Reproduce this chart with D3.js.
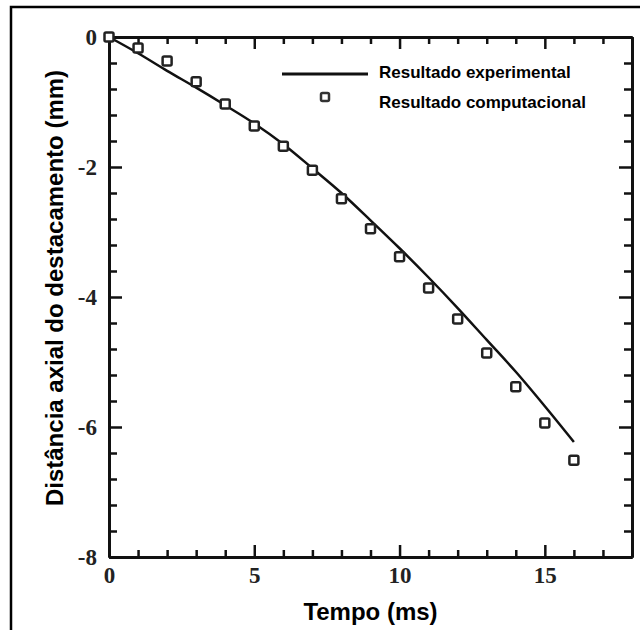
<!DOCTYPE html>
<html>
<head>
<meta charset="utf-8">
<script src="https://cdn.jsdelivr.net/npm/d3@7"></script>
<style>
  body { margin: 0; background: #fff; }
  .axis path, .axis line { stroke: #111; }
  .axis text { font-family: "Liberation Serif", "DejaVu Serif", serif; font-weight: bold; fill: #222; }
</style>
</head>
<body>
<script>
// data
var tempo = [0, 1, 2, 3, 4, 5, 6, 7, 8, 9, 10, 11, 12, 13, 14, 15, 16];
var experimental = [0, -0.25, -0.52, -0.78, -1.05, -1.33, -1.65, -2.02, -2.4, -2.82, -3.25, -3.7, -4.17, -4.66, -5.15, -5.68, -6.23];
var computacional = [0, -0.17, -0.37, -0.69, -1.03, -1.37, -1.68, -2.05, -2.49, -2.95, -3.38, -3.86, -4.34, -4.86, -5.38, -5.94, -6.51];
var xTicks = [0, 5, 10, 15];
var yTicks = [0, -2, -4, -6, -8];
var legendLabels = ["Resultado experimental", "Resultado computacional"];

const svgWidth = 640, svgHeight = 630;
const plot = {left: 109, right: 632, top: 37, bottom: 557};

const svg = d3.select('body')
	.append('svg')
	.attr('width', svgWidth)
	.attr('height', svgHeight);

// outer frame of the figure
svg.append('rect')
	.attr('x', 11).attr('y', 7)
	.attr('width', 660).attr('height', 660)
	.attr('fill', 'none')
	.attr('stroke', '#000')
	.attr('stroke-width', 2.5);

const xScale = d3.scaleLinear().domain([0, 18]).range([plot.left, plot.right]);
const yScale = d3.scaleLinear().domain([-8, 0]).range([plot.bottom, plot.top]);

const xMinor = d3.range(0, 19).filter(v => v % 5 !== 0);
const yMinor = d3.range(0, 21).filter(i => i % 5 !== 0).map(i => -8 + i * 0.4);

function styleAxis(g) {
	g.select('.domain').attr('stroke-width', 3);
	g.selectAll('.tick line').attr('stroke-width', 2.5);
}

// bottom
svg.append('g').attr('class', 'axis')
	.attr('transform', 'translate(0,' + plot.bottom + ')')
	.call(d3.axisBottom(xScale).tickValues(xMinor).tickSizeInner(-7).tickSizeOuter(0).tickFormat(''))
	.call(styleAxis);
svg.append('g').attr('class', 'axis')
	.attr('transform', 'translate(0,' + plot.bottom + ')')
	.call(d3.axisBottom(xScale).tickValues(xTicks).tickSizeInner(-12).tickSizeOuter(0).tickPadding(10))
	.call(styleAxis)
	.selectAll('text').attr('font-size', 23);

// top
svg.append('g').attr('class', 'axis')
	.attr('transform', 'translate(0,' + plot.top + ')')
	.call(d3.axisTop(xScale).tickValues(xMinor).tickSizeInner(-7).tickSizeOuter(0).tickFormat(''))
	.call(styleAxis);
svg.append('g').attr('class', 'axis')
	.attr('transform', 'translate(0,' + plot.top + ')')
	.call(d3.axisTop(xScale).tickValues(xTicks).tickSizeInner(-12).tickSizeOuter(0).tickFormat(''))
	.call(styleAxis);

// left
svg.append('g').attr('class', 'axis')
	.attr('transform', 'translate(' + plot.left + ',0)')
	.call(d3.axisLeft(yScale).tickValues(yMinor).tickSizeInner(-8).tickSizeOuter(0).tickFormat(''))
	.call(styleAxis);
svg.append('g').attr('class', 'axis')
	.attr('transform', 'translate(' + plot.left + ',0)')
	.call(d3.axisLeft(yScale).tickValues(yTicks).tickSizeInner(-13).tickSizeOuter(0).tickPadding(12).tickFormat(d => String(d)))
	.call(styleAxis)
	.selectAll('text').attr('font-size', 23);

// right
svg.append('g').attr('class', 'axis')
	.attr('transform', 'translate(' + plot.right + ',0)')
	.call(d3.axisRight(yScale).tickValues(yMinor).tickSizeInner(-8).tickSizeOuter(0).tickFormat(''))
	.call(styleAxis);
svg.append('g').attr('class', 'axis')
	.attr('transform', 'translate(' + plot.right + ',0)')
	.call(d3.axisRight(yScale).tickValues(yTicks).tickSizeInner(-13).tickSizeOuter(0).tickFormat(''))
	.call(styleAxis);

// experimental curve
const line = d3.line()
	.x((d, i) => xScale(tempo[i]))
	.y(d => yScale(d))
	.curve(d3.curveMonotoneX);

svg.append('path')
	.datum(experimental)
	.attr('d', line)
	.attr('fill', 'none')
	.attr('stroke', '#111')
	.attr('stroke-width', 2.5);

// computational squares
const sq = 9;
svg.append('g').selectAll('rect')
	.data(computacional)
	.enter()
	.append('rect')
	.attr('x', (d, i) => xScale(tempo[i]) - sq / 2)
	.attr('y', d => yScale(d) - sq / 2)
	.attr('width', sq).attr('height', sq)
	.attr('rx', 1.5)
	.attr('fill', '#fff')
	.attr('stroke', '#222')
	.attr('stroke-width', 2.5);

// legend
const legend = svg.append('g').attr('font-family', 'Liberation Sans, Arial, sans-serif')
	.attr('font-weight', 'bold').attr('font-size', 17);
legend.append('line')
	.attr('x1', 282).attr('x2', 368).attr('y1', 74).attr('y2', 74)
	.attr('stroke', '#111').attr('stroke-width', 3);
legend.append('rect')
	.attr('x', 325 - 4).attr('y', 97 - 4).attr('width', 8).attr('height', 8)
	.attr('rx', 1.5)
	.attr('fill', '#fff').attr('stroke', '#333').attr('stroke-width', 2.5);
legend.selectAll('text')
	.data(legendLabels)
	.enter()
	.append('text')
	.attr('x', 379)
	.attr('y', (d, i) => 78 + i * 30)
	.text(d => d);

// axis titles
svg.append('text')
	.attr('x', (plot.left + plot.right) / 2)
	.attr('y', 620)
	.attr('text-anchor', 'middle')
	.attr('font-family', 'Liberation Sans, Arial, sans-serif')
	.attr('font-weight', 'bold')
	.attr('font-size', 24)
	.text('Tempo (ms)');

svg.append('text')
	.attr('transform', 'translate(63,288) rotate(-90)')
	.attr('text-anchor', 'middle')
	.attr('font-family', 'Liberation Sans, Arial, sans-serif')
	.attr('font-weight', 'bold')
	.attr('font-size', 24)
	.text('Distância axial do destacamento (mm)');
</script>
</body>
</html>
